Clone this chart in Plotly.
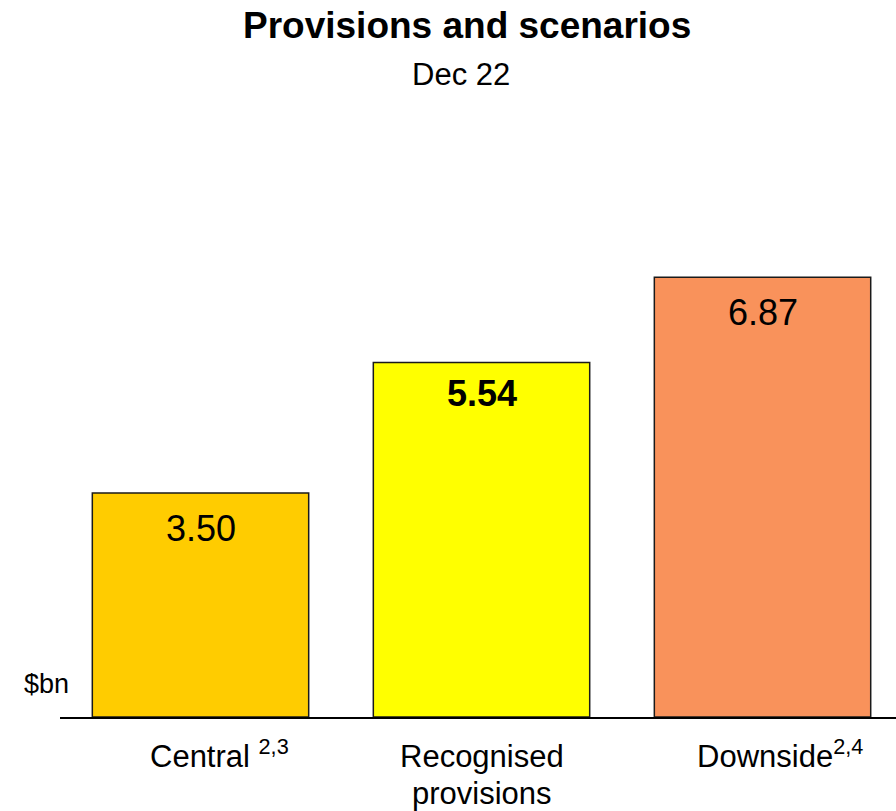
import plotly.graph_objects as go

# chart data
categories = ["Central", "Recognised provisions", "Downside"]
values = [3.50, 5.54, 6.87]
value_text = ["3.50", "5.54", "6.87"]
bar_colors = ["#FFCC00", "#FFFF00", "#F9925B"]

FONT = "Liberation Sans, Arial, sans-serif"

fig = go.Figure()
fig.add_trace(go.Bar(
    x=categories, y=values,
    width=0.77,
    marker=dict(color=bar_colors, line=dict(color="#1a1a1a", width=1.5)),
    hoverinfo="skip",
))

# value labels inside the bars, near the top
for cat, v, txt in zip(categories, values, value_text):
    bold = cat.startswith("Recognised")
    fig.add_annotation(x=cat, y=v, xref="x", yref="y",
                       text=f"<b>{txt}</b>" if bold else txt,
                       showarrow=False, yanchor="middle",
                       yshift=-31 if bold else -35,
                       font=dict(family=FONT, size=36, color="black"))

# category labels under the axis
fig.add_annotation(x=categories[0], y=0, xref="x", yref="paper",
                   text="Central\u00a0<sup>2,3</sup>", showarrow=False,
                   yanchor="bottom", yshift=-59, xshift=19,
                   font=dict(family=FONT, size=31, color="black"))
fig.add_annotation(x=categories[1], y=0, xref="x", yref="paper",
                   text="Recognised", showarrow=False,
                   yanchor="bottom", yshift=-59,
                   font=dict(family=FONT, size=31, color="black"))
fig.add_annotation(x=categories[1], y=0, xref="x", yref="paper",
                   text="provisions", showarrow=False,
                   yanchor="bottom", yshift=-96,
                   font=dict(family=FONT, size=31, color="black"))
fig.add_annotation(x=categories[2], y=0, xref="x", yref="paper",
                   text="Downside<sup>2,4</sup>", showarrow=False,
                   yanchor="bottom", yshift=-59, xshift=17,
                   font=dict(family=FONT, size=31, color="black"))

# unit label
fig.add_annotation(x=-0.0156, y=0.057, xref="paper", yref="paper",
                   text="$bn", showarrow=False,
                   xanchor="center", yanchor="middle",
                   font=dict(family=FONT, size=27, color="black"))

# title and subtitle
fig.add_annotation(x=0.487, y=1.1985, xref="paper", yref="paper",
                   text="<b>Provisions and scenarios</b>", showarrow=False,
                   xanchor="center", yanchor="middle",
                   font=dict(family=FONT, size=37, color="black"))
fig.add_annotation(x=0.48, y=1.114, xref="paper", yref="paper",
                   text="Dec 22", showarrow=False,
                   xanchor="center", yanchor="middle",
                   font=dict(family=FONT, size=31, color="black"))

fig.update_layout(
    width=896, height=811,
    margin=dict(l=60, r=0, t=140, b=94),
    paper_bgcolor="white", plot_bgcolor="white",
    showlegend=False,
    font=dict(family=FONT, color="black"),
    xaxis=dict(range=[-0.5, 2.475], showticklabels=False, ticks="",
               showgrid=False, zeroline=False,
               showline=True, linecolor="black", linewidth=2),
    yaxis=dict(range=[0, 577 / 64], visible=False),
)

# drop the default page margin so the figure sits at the window corner
fig.write_html("out.html", config={"displayModeBar": False},
               post_script="document.body.style.margin='0';")
